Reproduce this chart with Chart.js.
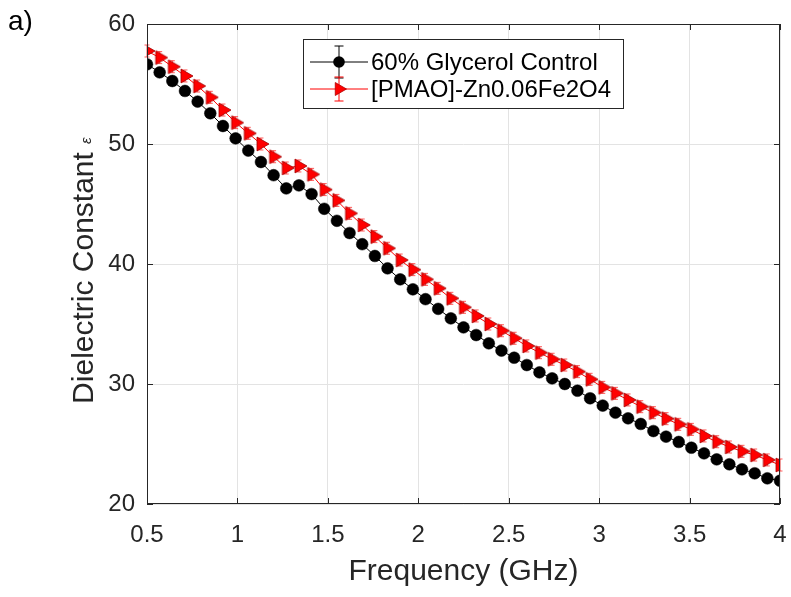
<!DOCTYPE html>
<html>
<head>
<meta charset="utf-8">
<script src="https://cdn.jsdelivr.net/npm/chart.js@4.4.0/dist/chart.umd.min.js"></script>
<style>
  html, body { margin: 0; padding: 0; background: #fff; }
  #chart { display: block; }
</style>
</head>
<body>
<canvas id="chart" width="791" height="597"></canvas>
<script>
// frequency points (GHz)
const freqGHz = [
  0.50, 0.57, 0.64, 0.71, 0.78, 0.85, 0.92, 0.99, 1.06, 1.13,
  1.20, 1.27, 1.34, 1.41, 1.48, 1.55, 1.62, 1.69, 1.76, 1.83,
  1.90, 1.97, 2.04, 2.11, 2.18, 2.25, 2.32, 2.39, 2.46, 2.53,
  2.60, 2.67, 2.74, 2.81, 2.88, 2.95, 3.02, 3.09, 3.16, 3.23,
  3.30, 3.37, 3.44, 3.51, 3.58, 3.65, 3.72, 3.79, 3.86, 3.93,
  4.00
];

// 60% glycerol control
const glycerolControl = [
  56.64, 55.97, 55.25, 54.42, 53.53, 52.56, 51.50, 50.47, 49.45, 48.50,
  47.40, 46.30, 46.55, 45.83, 44.60, 43.60, 42.58, 41.65, 40.67, 39.64,
  38.72, 37.89, 37.07, 36.26, 35.47, 34.72, 34.08, 33.39, 32.78, 32.19,
  31.58, 30.97, 30.47, 30.00, 29.44, 28.81, 28.20, 27.61, 27.14, 26.67,
  26.08, 25.61, 25.17, 24.69, 24.22, 23.72, 23.31, 22.89, 22.56, 22.14,
  21.94
];

// [PMAO]-Zn0.06Fe2O4
const pmaoZnFe = [
  57.75, 57.20, 56.44, 55.67, 54.83, 53.89, 52.83, 51.78, 50.89, 50.00,
  48.94, 48.00, 48.17, 47.47, 46.20, 45.30, 44.22, 43.25, 42.28, 41.31,
  40.33, 39.53, 38.72, 37.97, 37.14, 36.39, 35.67, 35.00, 34.44, 33.81,
  33.17, 32.61, 32.06, 31.58, 31.03, 30.39, 29.72, 29.22, 28.67, 28.11,
  27.61, 27.11, 26.64, 26.22, 25.67, 25.19, 24.75, 24.39, 24.08, 23.67,
  23.25
];

// error bars (small, mostly hidden by markers)
const pmaoErr = [
  0.5, 0.5, 0.5, 0.5, 0.5, 0.5, 0.5, 0.5, 0.5, 0.5,
  0.5, 0.5, 0.5, 0.5, 0.5, 0.5, 0.5, 0.5, 0.5, 0.5,
  0.5, 0.5, 0.5, 0.5, 0.5, 0.5, 0.5, 0.5, 0.5, 0.5,
  0.5, 0.5, 0.5, 0.5, 0.5, 0.5, 0.5, 0.5, 0.5, 0.5,
  0.5, 0.5, 0.5, 0.5, 0.5, 0.5, 0.5, 0.5, 0.5, 0.5,
  0.5
];

const xTicks = [0.5, 1, 1.5, 2, 2.5, 3, 3.5, 4];
const yTicks = [20, 30, 40, 50, 60];
const seriesNames = ["60% Glycerol Control", "[PMAO]-Zn0.06Fe2O4"];

const FONT = '"Liberation Sans", Arial, Helvetica, sans-serif';
const AXIS_COLOR = '#262626';
const GRID_COLOR = '#e3e3e3';

function drawTriangleRight(ctx, x, y, r) {
  ctx.beginPath();
  ctx.moveTo(x + r, y);
  ctx.lineTo(x - r / 2, y - r * 0.866);
  ctx.lineTo(x - r / 2, y + r * 0.866);
  ctx.closePath();
  ctx.fill();
  ctx.stroke();
}

function drawErrBar(ctx, x, yTop, yBot, cap) {
  ctx.beginPath();
  ctx.moveTo(x, yTop); ctx.lineTo(x, yBot);
  ctx.moveTo(x - cap, yTop); ctx.lineTo(x + cap, yTop);
  ctx.moveTo(x - cap, yBot); ctx.lineTo(x + cap, yBot);
  ctx.stroke();
}

// error bars go under the markers
const errorBarPlugin = {
  id: 'errorBars',
  beforeDatasetsDraw(chart) {
    const { ctx, scales: { x, y } } = chart;
    ctx.save();
    ctx.strokeStyle = '#ff3030';
    ctx.lineWidth = 0.8;
    freqGHz.forEach((f, i) => {
      const px = x.getPixelForValue(f);
      drawErrBar(ctx, px,
        y.getPixelForValue(pmaoZnFe[i] + pmaoErr[i]),
        y.getPixelForValue(pmaoZnFe[i] - pmaoErr[i]), 2.5);
    });
    ctx.restore();
  }
};

// matlab-like box, inward ticks, y title, panel label, legend
const decorPlugin = {
  id: 'decor',
  afterDraw(chart) {
    const { ctx, chartArea: a, scales: { x, y } } = chart;
    ctx.save();
    ctx.strokeStyle = AXIS_COLOR;
    ctx.lineWidth = 1;
    ctx.strokeRect(a.left + 0.5, a.top + 0.5, a.right - a.left - 1, a.bottom - a.top - 1);

    const tl = 6;
    ctx.beginPath();
    xTicks.forEach(v => {
      const px = Math.round(x.getPixelForValue(v)) + 0.5;
      ctx.moveTo(px, a.bottom); ctx.lineTo(px, a.bottom - tl);
      ctx.moveTo(px, a.top); ctx.lineTo(px, a.top + tl);
    });
    yTicks.forEach(v => {
      const py = Math.round(y.getPixelForValue(v)) + 0.5;
      ctx.moveTo(a.left, py); ctx.lineTo(a.left + tl, py);
      ctx.moveTo(a.right, py); ctx.lineTo(a.right - tl, py);
    });
    ctx.stroke();

    // y axis title
    ctx.fillStyle = AXIS_COLOR;
    ctx.save();
    ctx.translate(93, 278);
    ctx.rotate(-Math.PI / 2);
    ctx.font = '30px ' + FONT;
    ctx.textAlign = 'center';
    ctx.textBaseline = 'alphabetic';
    ctx.fillText('Dielectric Constant', 0, 0);
    ctx.font = 'italic 15px ' + FONT;
    ctx.textAlign = 'left';
    ctx.fillText('ε', 134, -2);
    ctx.restore();

    // panel label
    ctx.font = '28px ' + FONT;
    ctx.textAlign = 'left';
    ctx.textBaseline = 'alphabetic';
    ctx.fillStyle = '#000';
    ctx.fillText('a)', 8, 30);

    // legend
    const lx = 303, ly = 39, lw = 320, lh = 69;
    ctx.fillStyle = '#fff';
    ctx.fillRect(lx, ly, lw, lh);
    ctx.strokeStyle = AXIS_COLOR;
    ctx.lineWidth = 1;
    ctx.strokeRect(lx + 0.5, ly + 0.5, lw, lh);

    const rows = [
      { y: 62, color: '#000', half: 16 },
      { y: 89, color: '#ff0000', half: 12 }
    ];
    rows.forEach((r, i) => {
      ctx.strokeStyle = r.color;
      ctx.lineWidth = 1;
      ctx.beginPath();
      ctx.moveTo(310, r.y); ctx.lineTo(368, r.y);
      ctx.stroke();
      drawErrBar(ctx, 339, r.y - r.half, r.y + r.half, 4.5);
      if (i === 0) {
        ctx.fillStyle = '#000';
        ctx.beginPath();
        ctx.arc(339, r.y, 5.8, 0, Math.PI * 2);
        ctx.fill();
      } else {
        ctx.fillStyle = '#ff0000';
        ctx.strokeStyle = '#b00000';
        ctx.lineWidth = 0.8;
        drawTriangleRight(ctx, 339, r.y, 7.5);
      }
      ctx.fillStyle = '#000';
      ctx.font = '24px ' + FONT;
      ctx.textBaseline = 'middle';
      ctx.fillText(seriesNames[i], 371, r.y + 1);
    });
    ctx.restore();
  }
};

const redTriangle = (() => {
  const c = document.createElement('canvas');
  c.width = 20; c.height = 20;
  const g = c.getContext('2d');
  g.fillStyle = '#ff0000';
  g.strokeStyle = '#a00000';
  g.lineWidth = 0.8;
  drawTriangleRight(g, 10, 10, 8);
  return c;
})();

const ctx = document.getElementById('chart').getContext('2d');
const chart = new Chart(ctx, {
  type: 'line',
  data: {
    datasets: [
      {
        label: seriesNames[0],
        data: freqGHz.map((f, i) => ({ x: f, y: glycerolControl[i] })),
        borderColor: '#000',
        borderWidth: 1,
        backgroundColor: '#000',
        pointBackgroundColor: '#000',
        pointBorderColor: '#000',
        pointBorderWidth: 0.5,
        pointRadius: 5.9,
        pointStyle: 'circle',
        order: 2
      },
      {
        label: seriesNames[1],
        data: freqGHz.map((f, i) => ({ x: f, y: pmaoZnFe[i] })),
        borderColor: '#ff0000',
        borderWidth: 1,
        backgroundColor: '#ff0000',
        pointStyle: redTriangle,
        order: 1
      }
    ]
  },
  options: {
    responsive: false,
    animation: false,
    layout: { padding: { top: 24, right: 11, left: 0, bottom: 0 } },
    plugins: {
      legend: { display: false },
      tooltip: { enabled: false }
    },
    scales: {
      x: {
        type: 'linear',
        min: 0.5,
        max: 4,
        afterBuildTicks: (scale) => { scale.ticks = xTicks.map(v => ({ value: v })); },
        afterFit: (scale) => {
          scale.height = 93;
          scale.paddingLeft = 0;
          scale.paddingRight = 0;
        },
        grid: { color: GRID_COLOR, drawTicks: false },
        border: { display: false },
        ticks: {
          color: AXIS_COLOR,
          padding: 17,
          maxRotation: 0,
          font: { family: FONT, size: 24 },
          callback: (v) => String(v)
        },
        title: {
          display: true,
          text: 'Frequency (GHz)',
          color: AXIS_COLOR,
          font: { family: FONT, size: 30 },
          padding: { top: 0, bottom: 7 }
        }
      },
      y: {
        min: 20,
        max: 60,
        afterBuildTicks: (scale) => { scale.ticks = yTicks.map(v => ({ value: v })); },
        afterFit: (scale) => {
          scale.width = 147;
          scale.paddingTop = 0;
          scale.paddingBottom = 0;
        },
        grid: { color: GRID_COLOR, drawTicks: false },
        border: { display: false },
        ticks: {
          color: AXIS_COLOR,
          padding: 12,
          font: { family: FONT, size: 24 }
        }
      }
    }
  },
  plugins: [errorBarPlugin, decorPlugin]
});
</script>
</body>
</html>
